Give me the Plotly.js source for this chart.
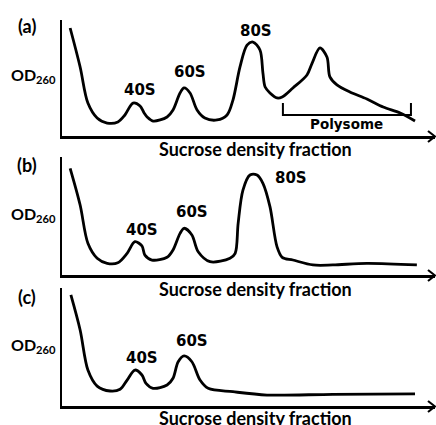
<!DOCTYPE html>
<html><head><meta charset="utf-8">
<script src="https://cdn.plot.ly/plotly-3.0.1.min.js"></script>
<style>html,body{margin:0;padding:0;background:#fff}</style>
</head><body><div id="chart" style="width:436px;height:425px"></div>
<script>
// Panel (a): wild type profile with polysomes
const fracA = [2.2,4.9,7.0,9.5,12.2,15.1,17.0,19.2,21.1,22.2,23.0,24.6,28.4,30.0,31.9,33.0,34.6,36.5,38.6,41.9,44.6,46.2,48.1,50.0,51.6,53.5,54.3,54.9,56.2,58.1,59.5,62.4,66.2,67.6,69.7,71.6,72.4,74.3,77.8,82.4,86.8,91.4,95.4];
const odA   = [93.1,59.5,28.4,15.5,11.2,12.1,18.1,28.4,25.9,19.8,16.4,12.9,16.4,22.4,37.1,41.4,37.1,22.4,15.5,13.8,18.1,31.0,59.5,78.4,81.0,74.1,54.3,42.2,37.1,32.8,33.6,41.4,52.6,62.9,75.9,68.1,50.9,44.0,37.9,31.9,25.0,19.8,12.9];
// Panel (b): 80S, no polysomes
const fracB = [2.2,4.9,7.0,9.5,12.2,15.1,17.6,19.7,21.6,22.4,24.3,28.4,30.0,31.9,33.0,35.1,36.8,40.0,45.4,46.8,47.6,48.9,50.8,52.7,54.3,56.2,58.1,59.5,62.4,67.8,73.2,82.4,95.9];
const odB   = [90.4,59.3,26.9,14.2,9.9,10.4,18.4,28.2,24.6,16.9,12.7,15.0,21.2,35.3,39.6,33.9,19.7,11.3,14.2,18.4,43.8,72.0,84.7,84.7,77.7,57.9,24.0,15.0,12.7,8.5,8.5,9.9,8.5];
// Panel (c): subunits only
const fracC = [2.4,4.9,7.0,9.5,13.0,15.7,17.6,19.7,21.6,22.7,24.6,28.4,30.0,31.4,33.0,35.1,37.3,39.5,46.2,55.4,73.2,95.4];
const odC   = [94.1,64.4,30.5,16.9,12.7,14.2,22.0,30.5,26.3,19.2,15.0,17.8,23.5,37.5,42.4,37.5,22.0,15.0,12.1,9.3,9.9,10.2];
// Labels
const panelLabels = ['(a)','(b)','(c)'];
const xTitle = 'Sucrose density fraction';
const yTitle = 'OD<sub>260</sub>';
const polysomeRange = [59.7, 94.3];

const W = 436, H = 425;
const px = v => v / W, py = v => 1 - v / H;
const line = {color:'#000', width:2.8, shape:'spline', smoothing:0.9};

const traces = [
  {x:fracA, y:odA, xaxis:'x', yaxis:'y', mode:'lines', line, hoverinfo:'skip'},
  {x:fracB, y:odB, xaxis:'x2', yaxis:'y2', mode:'lines', line, hoverinfo:'skip'},
  {x:fracC, y:odC, xaxis:'x3', yaxis:'y3', mode:'lines', line, hoverinfo:'skip'}
];

const xd = [62/W, 435/W];
const ax = (dom, anchor) => ({domain:dom, anchor, range:[0,100.8], showline:true, linecolor:'#000', linewidth:2.5,
  showgrid:false, zeroline:false, showticklabels:false, ticks:'', fixedrange:true});
const ay = (top, bot, anchor) => ({domain:[py(bot), py(top)], anchor, range:[0,100], showline:true, linecolor:'#000', linewidth:2.5,
  showgrid:false, zeroline:false, showticklabels:false, ticks:'', fixedrange:true});

const panels = [{top:20, bot:136}, {top:157, bot:275}, {top:288, bot:406}];

const peakFont = {family:'DejaVu Sans', size:15, color:'#000'};
const calFont = {family:'Lato', size:16, color:'#000'};
const annotations = [];
const shapes = [];
const titleY = [149, 289, 418];
const labelY = [26, 165, 297];
const odY = [75, 214, 345];
panels.forEach((p, i) => {
  annotations.push({xref:'paper', yref:'paper', x:px(27), y:py(labelY[i]), text:'<b>'+panelLabels[i]+'</b>', showarrow:false, font:{...calFont, size:18}, xanchor:'center', yanchor:'middle'});
  annotations.push({xref:'paper', yref:'paper', x:px(9), y:py(odY[i]), text:'<b>'+yTitle+'</b>', showarrow:false, font:calFont, xanchor:'left', yanchor:'middle'});
  annotations.push({xref:'paper', yref:'paper', x:px(255), y:py(titleY[i]), text:'<b>'+xTitle+'</b>', showarrow:false, font:{...calFont, size:18}, xanchor:'center', yanchor:'middle'});
  // arrow head on x-axis
  const yb = p.bot + 0.5;
  shapes.push({type:'path', xref:'paper', yref:'paper', path:`M ${px(428)} ${py(yb-5.5)} L ${px(435)} ${py(yb)} L ${px(428)} ${py(yb+5.5)}`, line:{color:'#000', width:2.2}});
});
const peakLabels = [
  ['x','y',21.1,39.7,'40S'],['x','y',34.6,55.2,'60S'],['x','y',52.4,90.5,'80S'],
  ['x2','y2',21.6,38.1,'40S'],['x2','y2',35.1,53.0,'60S'],['x2','y2',61.9,82.6,'80S'],
  ['x3','y3',21.6,41.1,'40S'],['x3','y3',35.1,55.1,'60S']
];
peakLabels.forEach(l => annotations.push({xref:l[0], yref:l[1], x:l[2], y:l[3], text:'<b>'+l[4]+'</b>', showarrow:false, font:peakFont, xanchor:'center', yanchor:'middle'}));
annotations.push({xref:'x', yref:'y', x:(polysomeRange[0]+polysomeRange[1])/2, y:10, text:'<b>Polysome</b>', showarrow:false, font:{...peakFont, size:13.5}, xanchor:'center', yanchor:'middle'});
shapes.push({type:'path', xref:'x', yref:'y', path:`M ${polysomeRange[0]} 28.4 L ${polysomeRange[0]} 18.1 L ${polysomeRange[1]} 18.1 L ${polysomeRange[1]} 28.4`, line:{color:'#000', width:2}});

const layout = {
  width:W, height:H, margin:{l:0,r:0,t:0,b:0}, showlegend:false,
  paper_bgcolor:'#fff', plot_bgcolor:'rgba(0,0,0,0)',
  xaxis:ax(xd,'y'), yaxis:ay(panels[0].top, panels[0].bot,'x'),
  xaxis2:ax(xd,'y2'), yaxis2:ay(panels[1].top, panels[1].bot,'x2'),
  xaxis3:ax(xd,'y3'), yaxis3:ay(panels[2].top, panels[2].bot,'x3'),
  annotations, shapes
};
traces.forEach(t => t.cliponaxis = false);
Plotly.newPlot('chart', traces, layout, {displayModeBar:false, staticPlot:true});
</script></body></html>
